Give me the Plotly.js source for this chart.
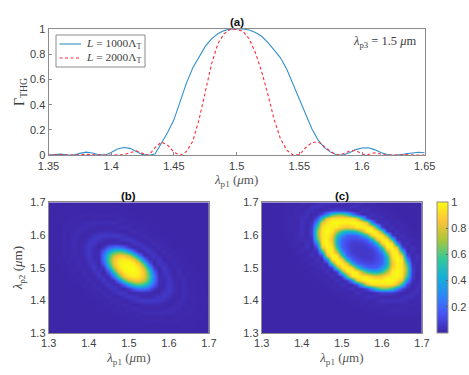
<!DOCTYPE html>
<html><head><meta charset="utf-8">
<script src="https://cdn.plot.ly/plotly-3.0.1.min.js"></script>
<style>html,body{margin:0;padding:0;background:#fff}</style></head>
<body><div id="chart" style="width:469px;height:375px"></div>
<script>
const lambdaP1 = [1.35,1.355,1.36,1.365,1.37,1.375,1.38,1.385,1.39,1.395,1.4,1.405,1.41,1.415,1.42,1.425,1.43,1.435,1.44,1.445,1.45,1.455,1.46,1.465,1.47,1.475,1.48,1.485,1.49,1.495,1.5,1.505,1.51,1.515,1.52,1.525,1.53,1.535,1.54,1.545,1.55,1.555,1.56,1.565,1.57,1.575,1.58,1.585,1.59,1.595,1.6,1.605,1.61,1.615,1.62,1.625,1.63,1.635,1.64,1.645,1.65];
const gammaL1000 = [.001,.008,.009,.002,.002,.015,.025,.018,.005,.001,.022,.05,.062,.055,.03,.005,.001,.01,.095,.18,.28,.43,.57,.69,.78,.86,.92,.96,.985,.997,1,.998,.99,.97,.94,.89,.83,.77,.68,.56,.44,.33,.21,.12,.06,.025,.002,.002,.02,.045,.058,.06,.045,.022,.006,0,.003,.012,.02,.024,.02];
const gammaL2000 = [.001,.003,.006,.002,.001,.004,.008,.004,.001,.001,.001,.003,.005,.02,.035,.015,.001,.06,.105,.08,.025,0,.03,.11,.28,.5,.72,.88,.96,.995,.995,.98,.92,.81,.66,.48,.28,.13,.04,.002,.005,.06,.1,.108,.07,.03,.002,.012,.032,.04,.008,.006,.02,.012,.001,.001,.004,.006,.003,.001,.002];

const gridB = [1.3,1.3125,1.325,1.3375,1.35,1.3625,1.375,1.3875,1.4,1.4125,1.425,1.4375,1.45,1.4625,1.475,1.4875,1.5,1.5125,1.525,1.5375,1.55,1.5625,1.575,1.5875,1.6,1.6125,1.625,1.6375,1.65,1.6625,1.675,1.6875,1.7];
const thgB = [
[0,0,0,0,0,0,0,0,0,0,0,0,0,0,0,0,0,0,0,0,0,0,0,0,0,0,0,0,0,0,0,0,0],
[0,0,0,0,0,0,0,0,0,0,0,0,0,0,0,0,0,0,0,1,3,4,4,4,4,4,4,3,1,0,0,0,0],
[0,0,0,0,0,0,0,0,0,0,0,0,0,0,0,0,0,3,4,3,1,1,2,3,2,1,1,3,4,3,0,0,0],
[0,0,0,0,0,0,0,0,0,0,0,0,0,0,0,3,4,1,3,9,10,10,9,9,10,10,9,3,1,4,3,0,0],
[0,0,0,0,0,0,0,0,0,0,0,0,0,1,4,1,5,10,7,3,1,5,6,5,1,3,7,10,5,1,4,1,0],
[0,0,0,0,0,0,0,0,0,0,0,0,3,3,3,10,6,2,13,22,25,25,25,25,22,13,2,6,10,3,3,3,0],
[0,0,0,0,0,0,0,0,0,0,0,4,1,9,7,2,18,25,14,7,4,3,4,7,14,25,18,2,7,9,1,4,0],
[0,0,0,0,0,0,0,0,0,0,4,1,10,3,13,25,10,1,5,18,25,25,18,5,1,10,25,13,3,10,1,4,0],
[0,0,0,0,0,0,0,0,1,4,2,10,1,22,14,1,16,38,55,60,60,60,55,38,16,1,14,22,1,10,2,4,1],
[0,0,0,0,0,0,0,0,4,3,9,5,25,7,5,38,60,50,27,15,15,27,50,60,38,5,7,25,5,9,3,4,0],
[0,0,0,0,0,0,0,4,2,9,6,25,4,18,55,50,10,1,20,25,20,1,10,50,55,18,4,25,6,9,2,4,0],
[0,0,0,0,0,0,4,1,10,5,25,3,25,60,27,1,57,169,248,248,169,57,1,27,60,25,3,25,5,10,1,4,0],
[0,0,0,0,0,3,1,10,1,25,4,25,60,15,20,169,390,549,603,549,390,169,20,15,60,25,4,25,1,10,1,3,0],
[0,0,0,0,1,3,9,3,22,7,18,60,15,25,248,549,757,846,846,757,549,248,25,15,60,18,7,22,3,9,3,1,0],
[0,0,0,0,4,3,7,13,14,5,55,27,20,248,603,846,947,970,947,846,603,248,20,27,55,5,14,13,7,3,4,0,0],
[0,0,0,3,1,10,2,25,1,38,50,1,169,549,846,970,997,997,970,846,549,169,1,50,38,1,25,2,10,1,3,0,0],
[0,0,0,4,5,6,18,10,16,60,10,57,390,757,947,997,1000,997,947,757,390,57,10,60,16,10,18,6,5,4,0,0,0],
[0,0,3,1,10,2,25,1,38,50,1,169,549,846,970,997,997,970,846,549,169,1,50,38,1,25,2,10,1,3,0,0,0],
[0,0,4,3,7,13,14,5,55,27,20,248,603,846,947,970,947,846,603,248,20,27,55,5,14,13,7,3,4,0,0,0,0],
[0,1,3,9,3,22,7,18,60,15,25,248,549,757,846,846,757,549,248,25,15,60,18,7,22,3,9,3,1,0,0,0,0],
[0,3,1,10,1,25,4,25,60,15,20,169,390,549,603,549,390,169,20,15,60,25,4,25,1,10,1,3,0,0,0,0,0],
[0,4,1,10,5,25,3,25,60,27,1,57,169,248,248,169,57,1,27,60,25,3,25,5,10,1,4,0,0,0,0,0,0],
[0,4,2,9,6,25,4,18,55,50,10,1,20,25,20,1,10,50,55,18,4,25,6,9,2,4,0,0,0,0,0,0,0],
[0,4,3,9,5,25,7,5,38,60,50,27,15,15,27,50,60,38,5,7,25,5,9,3,4,0,0,0,0,0,0,0,0],
[1,4,2,10,1,22,14,1,16,38,55,60,60,60,55,38,16,1,14,22,1,10,2,4,1,0,0,0,0,0,0,0,0],
[0,4,1,10,3,13,25,10,1,5,18,25,25,18,5,1,10,25,13,3,10,1,4,0,0,0,0,0,0,0,0,0,0],
[0,4,1,9,7,2,18,25,14,7,4,3,4,7,14,25,18,2,7,9,1,4,0,0,0,0,0,0,0,0,0,0,0],
[0,3,3,3,10,6,2,13,22,25,25,25,25,22,13,2,6,10,3,3,3,0,0,0,0,0,0,0,0,0,0,0,0],
[0,1,4,1,5,10,7,3,1,5,6,5,1,3,7,10,5,1,4,1,0,0,0,0,0,0,0,0,0,0,0,0,0],
[0,0,3,4,1,3,9,10,10,9,9,10,10,9,3,1,4,3,0,0,0,0,0,0,0,0,0,0,0,0,0,0,0],
[0,0,0,3,4,3,1,1,2,3,2,1,1,3,4,3,0,0,0,0,0,0,0,0,0,0,0,0,0,0,0,0,0],
[0,0,0,0,1,3,4,4,4,4,4,4,3,1,0,0,0,0,0,0,0,0,0,0,0,0,0,0,0,0,0,0,0],
[0,0,0,0,0,0,0,0,0,0,0,0,0,0,0,0,0,0,0,0,0,0,0,0,0,0,0,0,0,0,0,0,0]];

const gridC = gridB;
const thgC = [
[0,0,0,0,0,0,0,0,0,0,0,0,0,0,0,0,0,0,0,0,0,0,0,0,0,0,0,0,0,0,0,0,0],
[0,0,0,0,0,0,0,0,0,0,0,0,0,0,0,0,0,0,0,0,0,0,0,0,0,0,0,0,0,0,0,0,0],
[0,0,0,0,0,0,0,0,0,0,0,0,0,0,0,0,0,0,0,0,0,0,0,0,0,0,0,0,0,0,0,0,0],
[0,0,0,0,0,0,0,0,0,0,0,0,0,0,0,0,0,0,0,0,0,0,0,0,0,0,0,0,0,0,0,0,0],
[0,0,0,0,0,0,0,0,0,0,0,0,0,0,0,0,0,0,0,0,0,0,0,0,1,2,2,3,3,3,2,2,1],
[0,0,0,0,0,0,0,0,0,0,0,0,0,0,0,0,0,0,0,0,0,1,2,4,7,8,8,8,8,8,8,7,4],
[0,0,0,0,0,0,0,0,0,0,0,0,0,0,0,0,0,0,0,1,2,6,8,5,3,8,12,13,12,8,3,5,8],
[0,0,0,0,0,0,0,0,0,0,0,0,0,0,0,0,0,0,2,6,8,3,13,18,14,8,6,6,8,14,18,13,3],
[0,0,0,0,0,0,0,0,0,0,0,0,0,0,0,0,1,4,8,3,16,14,4,20,36,40,40,40,36,20,4,14,16],
[0,0,0,0,0,0,0,0,0,0,0,0,0,0,0,2,7,5,13,14,8,38,38,22,12,8,8,12,22,38,38,8,14],
[0,0,0,0,0,0,0,0,0,0,0,0,0,0,2,8,3,18,4,38,30,8,10,35,70,80,70,35,10,8,30,38,4],
[0,0,0,0,0,0,0,0,0,0,0,0,0,3,8,8,14,20,38,8,25,110,300,540,640,640,540,300,110,25,8,38,20],
[0,0,0,0,0,0,0,0,0,0,0,0,3,8,12,8,36,22,10,110,480,830,940,950,950,950,940,830,480,110,10,22,36],
[0,0,0,0,0,0,0,0,0,0,0,3,8,13,6,40,12,35,300,830,950,990,1000,980,980,1000,990,950,830,300,35,12,40],
[0,0,0,0,0,0,0,0,0,0,2,8,12,6,40,8,70,540,940,990,970,960,880,840,880,960,970,990,940,540,70,8,40],
[0,0,0,0,0,0,0,0,0,2,8,8,8,40,8,80,640,950,1000,960,720,520,420,420,520,720,960,1000,950,640,80,8,40],
[0,0,0,0,0,0,0,0,1,7,3,14,36,12,70,640,950,980,880,520,300,185,170,185,300,520,880,980,950,640,70,12,36],
[0,0,0,0,0,0,0,0,4,5,18,20,22,35,540,950,980,840,420,185,130,110,110,130,185,420,840,980,950,540,35,22,20],
[0,0,0,0,0,0,0,2,8,13,4,38,10,300,940,1000,880,420,170,110,75,70,75,110,170,420,880,1000,940,300,10,38,4],
[0,0,0,0,0,0,1,6,3,14,38,8,110,830,990,960,520,185,110,70,62,62,70,110,185,520,960,990,830,110,8,38,14],
[0,0,0,0,0,0,2,8,16,8,30,25,480,950,970,720,300,130,75,62,60,62,75,130,300,720,970,950,480,25,30,8,16],
[0,0,0,0,0,1,6,3,14,38,8,110,830,990,960,520,185,110,70,62,62,70,110,185,520,960,990,830,110,8,38,14,3],
[0,0,0,0,0,2,8,13,4,38,10,300,940,1000,880,420,170,110,75,70,75,110,170,420,880,1000,940,300,10,38,4,13,8],
[0,0,0,0,0,4,5,18,20,22,35,540,950,980,840,420,185,130,110,110,130,185,420,840,980,950,540,35,22,20,18,5,4],
[0,0,0,0,1,7,3,14,36,12,70,640,950,980,880,520,300,185,170,185,300,520,880,980,950,640,70,12,36,14,3,7,1],
[0,0,0,0,2,8,8,8,40,8,80,640,950,1000,960,720,520,420,420,520,720,960,1000,950,640,80,8,40,8,8,8,2,0],
[0,0,0,0,2,8,12,6,40,8,70,540,940,990,970,960,880,840,880,960,970,990,940,540,70,8,40,6,12,8,2,0,0],
[0,0,0,0,3,8,13,6,40,12,35,300,830,950,990,1000,980,980,1000,990,950,830,300,35,12,40,6,13,8,3,0,0,0],
[0,0,0,0,3,8,12,8,36,22,10,110,480,830,940,950,950,950,940,830,480,110,10,22,36,8,12,8,3,0,0,0,0],
[0,0,0,0,3,8,8,14,20,38,8,25,110,300,540,640,640,540,300,110,25,8,38,20,14,8,8,3,0,0,0,0,0],
[0,0,0,0,2,8,3,18,4,38,30,8,10,35,70,80,70,35,10,8,30,38,4,18,3,8,2,0,0,0,0,0,0],
[0,0,0,0,2,7,5,13,14,8,38,38,22,12,8,8,12,22,38,38,8,14,13,5,7,2,0,0,0,0,0,0,0],
[0,0,0,0,1,4,8,3,16,14,4,20,36,40,40,40,36,20,4,14,16,3,8,4,1,0,0,0,0,0,0,0,0]];

const parula = [[0,'#3e26a8'],[0.143,'#4752f4'],[0.286,'#2d87f7'],[0.429,'#12b1d6'],[0.571,'#37c897'],[0.714,'#abc739'],[0.857,'#fec338'],[1,'#f9fb14']];
const tickColor = '#404040', frameColor = '#8c8c8c', W = 469, H = 375;
const sans = 'Liberation Sans, Arial, sans-serif', serif = 'Liberation Serif, Times New Roman, serif';
const px = a => a / W, py = a => 1 - a / H;
const scale = z => z.map(r => r.map(v => v / 1000));
const blue = '#3390cc', red = '#ff2a3a';

function axis(extra) {
  return Object.assign({
    showgrid: false, zeroline: false, showline: true, mirror: true,
    linecolor: frameColor, linewidth: 1, ticks: '', tickfont: {family: sans, size: 11, color: tickColor},
    fixedrange: true
  }, extra);
}
const labelP1 = {text: '<i>λ</i><sub>p1</sub> (<i>μ</i>m)', font: {family: serif, size: 13, color: '#555'}, standoff: 4};
const labelP2 = {text: '<i>λ</i><sub>p2</sub> (<i>μ</i>m)', font: {family: serif, size: 13, color: '#404040'}, standoff: 4};
const ticks04 = [1.3,1.4,1.5,1.6,1.7];
const ticks04Text = ['1.3','1.4','1.5','1.6','1.7'];

const traces = [
  {x: lambdaP1, y: gammaL1000, mode: 'lines', showlegend: false, line: {color: blue, width: 1.1}},
  {x: lambdaP1, y: gammaL2000, mode: 'lines', showlegend: false, line: {color: red, width: 1.1, dash: '3px,2.5px'}},
  {type: 'heatmap', x: gridB, y: gridB, z: scale(thgB), xaxis: 'x2', yaxis: 'y2', zmin: 0, zmax: 1, zsmooth: 'best', colorscale: parula, showscale: false},
  {type: 'heatmap', x: gridC, y: gridC, z: scale(thgC), xaxis: 'x3', yaxis: 'y3', zmin: 0, zmax: 1, zsmooth: 'best', colorscale: parula, showscale: true,
   colorbar: {x: px(436.7), xanchor: 'left', y: py(333), yanchor: 'bottom', len: 130.7/H, thickness: 11, xpad: 0, ypad: 0, outlinecolor: frameColor, outlinewidth: 1,
     tickvals: [0.2,0.4,0.6,0.8,1], ticktext: ['0.2','0.4','0.6','0.8','1'], ticks: 'inside', ticklen: 2, tickcolor: '#555', tickfont: {family: sans, size: 11, color: tickColor}}}
];
function note(text, x, y, size, color, family, anchor) {
  return {text, xref: 'paper', yref: 'paper', x: px(x), y: py(y), xanchor: anchor || 'center', yanchor: 'middle', showarrow: false, font: {family, size, color}};
}
function paperLine(x0, x1, y, color, dash) {
  return {type: 'line', xref: 'paper', yref: 'paper', x0: px(x0), x1: px(x1), y0: py(y), y1: py(y), line: {color, width: 1.1, dash: dash || 'solid'}};
}
const layout = {
  width: W, height: H, margin: {l: 0, r: 0, t: 0, b: 0}, paper_bgcolor: '#fff', plot_bgcolor: '#fff', showlegend: false,
  xaxis: axis({domain: [px(48.5), px(424.7)], anchor: 'y', range: [1.35,1.65], tickvals: [1.35,1.4,1.45,1.5,1.55,1.6,1.65], ticktext: ['1.35','1.4','1.45','1.5','1.55','1.6','1.65'], ticks: 'inside', ticklen: 3, tickcolor: frameColor, title: labelP1}),
  yaxis: axis({domain: [py(155.3), py(28.7)], anchor: 'x', range: [0,1], tickvals: [0,0.2,0.4,0.6,0.8,1], ticktext: ['0','0.2','0.4','0.6','0.8','1'], ticks: 'inside', ticklen: 3, tickcolor: frameColor,
    title: {text: 'Γ<sub>THG</sub>', font: {family: serif, size: 14, color: '#404040'}, standoff: 2}}),
  xaxis2: axis({domain: [px(48.7), px(209)], anchor: 'y2', range: [1.3,1.7], tickvals: ticks04, ticktext: ticks04Text, title: labelP1}),
  yaxis2: axis({domain: [py(333), py(202.3)], anchor: 'x2', range: [1.3,1.7], tickvals: ticks04, ticktext: ticks04Text, title: labelP2}),
  xaxis3: axis({domain: [px(261.7), px(422)], anchor: 'y3', range: [1.3,1.7], tickvals: ticks04, ticktext: ticks04Text, title: labelP1}),
  yaxis3: axis({domain: [py(333), py(202.3)], anchor: 'x3', range: [1.3,1.7], tickvals: ticks04, ticktext: ticks04Text}),
  shapes: [
    {type: 'rect', xref: 'paper', yref: 'paper', x0: px(56), x1: px(145), y0: py(67), y1: py(35), line: {color: frameColor, width: 1}, fillcolor: '#fff'},
    paperLine(59.5, 81, 44, blue),
    paperLine(59.5, 81, 58, red, '3px,2.5px')
  ],
  annotations: [
    note('<b>(a)</b>', 236.5, 21.5, 11.5, '#111', sans),
    note('<b>(b)</b>', 128.5, 196, 11.5, '#111', sans),
    note('<b>(c)</b>', 342, 196, 11.5, '#111', sans),
    note('<i>λ</i><sub>p3</sub> = 1.5 <i>μ</i>m', 384.5, 42, 12.5, '#404040', serif),
    note('<i>L</i> = 1000Λ<sub>T</sub>', 84, 44, 11.4, '#404040', serif, 'left'),
    note('<i>L</i> = 2000Λ<sub>T</sub>', 84, 58, 11.4, '#404040', serif, 'left')
  ]
};
Plotly.newPlot('chart', traces, layout, {staticPlot: true, displayModeBar: false});
</script></body></html>
